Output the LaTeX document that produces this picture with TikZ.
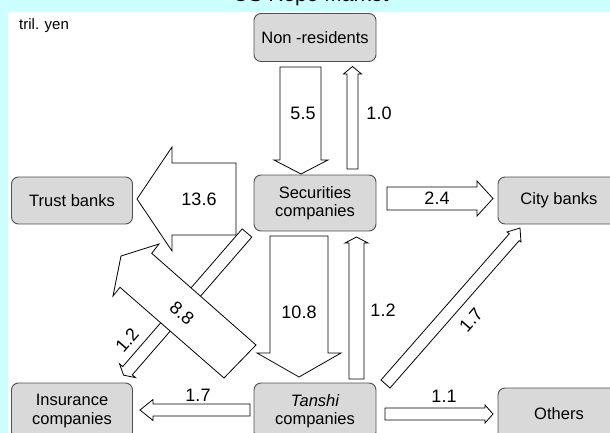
\documentclass[tikz,border=0pt]{standalone}
\usepackage{fontspec}
\setmainfont{Liberation Sans}
\definecolor{cyanbg}{HTML}{CCFFFF}
\definecolor{boxfill}{HTML}{D9D9D9}
\definecolor{boxline}{HTML}{505050}
\begin{document}
\begin{tikzpicture}[x=1pt,y=-1pt,
  box/.style={draw=boxline, fill=boxfill, rounded corners=7pt, line width=0.9pt,
    minimum width=122pt, align=center, inner sep=0pt,
    font=\fontsize{16.5}{18.3}\selectfont},
  blockarrow/.style={draw=black, fill=white, line width=0.8pt, line join=miter},
  num/.style={inner sep=0pt, font=\fontsize{18}{18}\selectfont}]
\useasboundingbox (0,0) rectangle (610,433);
\fill[cyanbg] (0,0) rectangle (610,433);
\fill[white] (8,12.5) rectangle (615,440);
\node[anchor=base, font=\fontsize{21}{21}\selectfont] (title) at (311,1.5) {US Repo Market};
\node[anchor=west, inner sep=0pt, font=\fontsize{15}{15}\selectfont] (unit) at (19,26) {tril. yen};

% nodes
\node[box, minimum height=48pt] (nonres) at (315,37.5) {Non -residents};
\node[box, minimum height=56pt] (sec) at (315,203) {Securities\\companies};
\node[box, minimum width=121pt, minimum height=47pt] (trust) at (72,200.5) {Trust banks};
\node[box, minimum height=47pt] (city) at (559,200.5) {City banks};
\node[box, minimum width=121pt, minimum height=56pt] (ins) at (72,411) {Insurance\\companies};
\node[box, minimum height=56pt] (tanshi) at (315,411) {{\itshape Tanshi}\\companies};
\node[box, minimum height=52pt] (others) at (559,414) {Others};

% 5.5 Non-residents -> Securities
\draw[blockarrow] (280,67) -- (321,67) -- (321,160) -- (328,160) -- (301,174) -- (274,160) -- (280,160) -- cycle;
\node[num] (l55) at (303,113) {5.5};
% 1.0 Securities -> Non-residents
\draw[blockarrow] (347,169) -- (358,169) -- (358,74) -- (361.5,74) -- (352.5,66.5) -- (343.5,74) -- (347,74) -- cycle;
\node[num] (l10) at (379,113) {1.0};
% 13.6 Securities -> Trust banks
\draw[blockarrow] (236,163) -- (236,235) -- (172,235) -- (172,251) -- (137,199) -- (172,147) -- (172,163) -- cycle;
\node[num] (l136) at (199,199) {13.6};
% 2.4 Securities -> City banks
\draw[blockarrow] (387,187) -- (477,187) -- (477,181) -- (493,198.5) -- (477,216) -- (477,210) -- (387,210) -- cycle;
\node[num] (l24) at (437,198.5) {2.4};
% 10.8 Securities -> Tanshi
\draw[blockarrow] (270,236) -- (328,236) -- (328,353) -- (341,353) -- (299,377) -- (257,353) -- (270,353) -- cycle;
\node[num] (l108) at (299,312) {10.8};
% 1.2 Tanshi -> Securities
\draw[blockarrow] (349,379) -- (364,379) -- (364,243) -- (368,243) -- (356.5,237) -- (345,243) -- (349,243) -- cycle;
\node[num] (l12a) at (383,310) {1.2};
% 1.7 Tanshi -> City banks
\draw[blockarrow] (381,380) -- (509.3,233.7) -- (507,232) -- (520,228) -- (521,242) -- (519.1,240.7) -- (390,388) -- cycle;
\node[num, rotate=49] (l17a) at (471,320) {1.7};
% 1.2 Securities -> Insurance (thin diagonal)
\draw[blockarrow] (242.2,228.9) -- (251.8,237.1) -- (132.3,374.8) -- (135.5,377.6) -- (123.6,375.2) -- (119.5,363.8) -- (122.7,366.6) -- cycle;
\node[num, rotate=49] (l12b) at (127,340) {1.2};
% 8.8 Tanshi -> Trust banks (big diagonal)
\draw[blockarrow] (256,345) -- (224,378) -- (120,287.3) -- (113,296) -- (121,256) -- (159,244) -- (151.7,253.3) -- cycle;
\node[num, rotate=-41] (l88) at (182,313) {8.8};
% 1.7 Tanshi -> Insurance
\draw[blockarrow] (250,404) -- (153,404) -- (153,399.5) -- (140,410) -- (153,420.5) -- (153,416) -- (250,416) -- cycle;
\node[num] (l17b) at (198,395) {1.7};
% 1.1 Tanshi -> Others
\draw[blockarrow] (385,408) -- (485,408) -- (485,405) -- (493,414) -- (485,423) -- (485,420) -- (385,420) -- cycle;
\node[num] (l11) at (444,396) {1.1};
\end{tikzpicture}
\end{document}
